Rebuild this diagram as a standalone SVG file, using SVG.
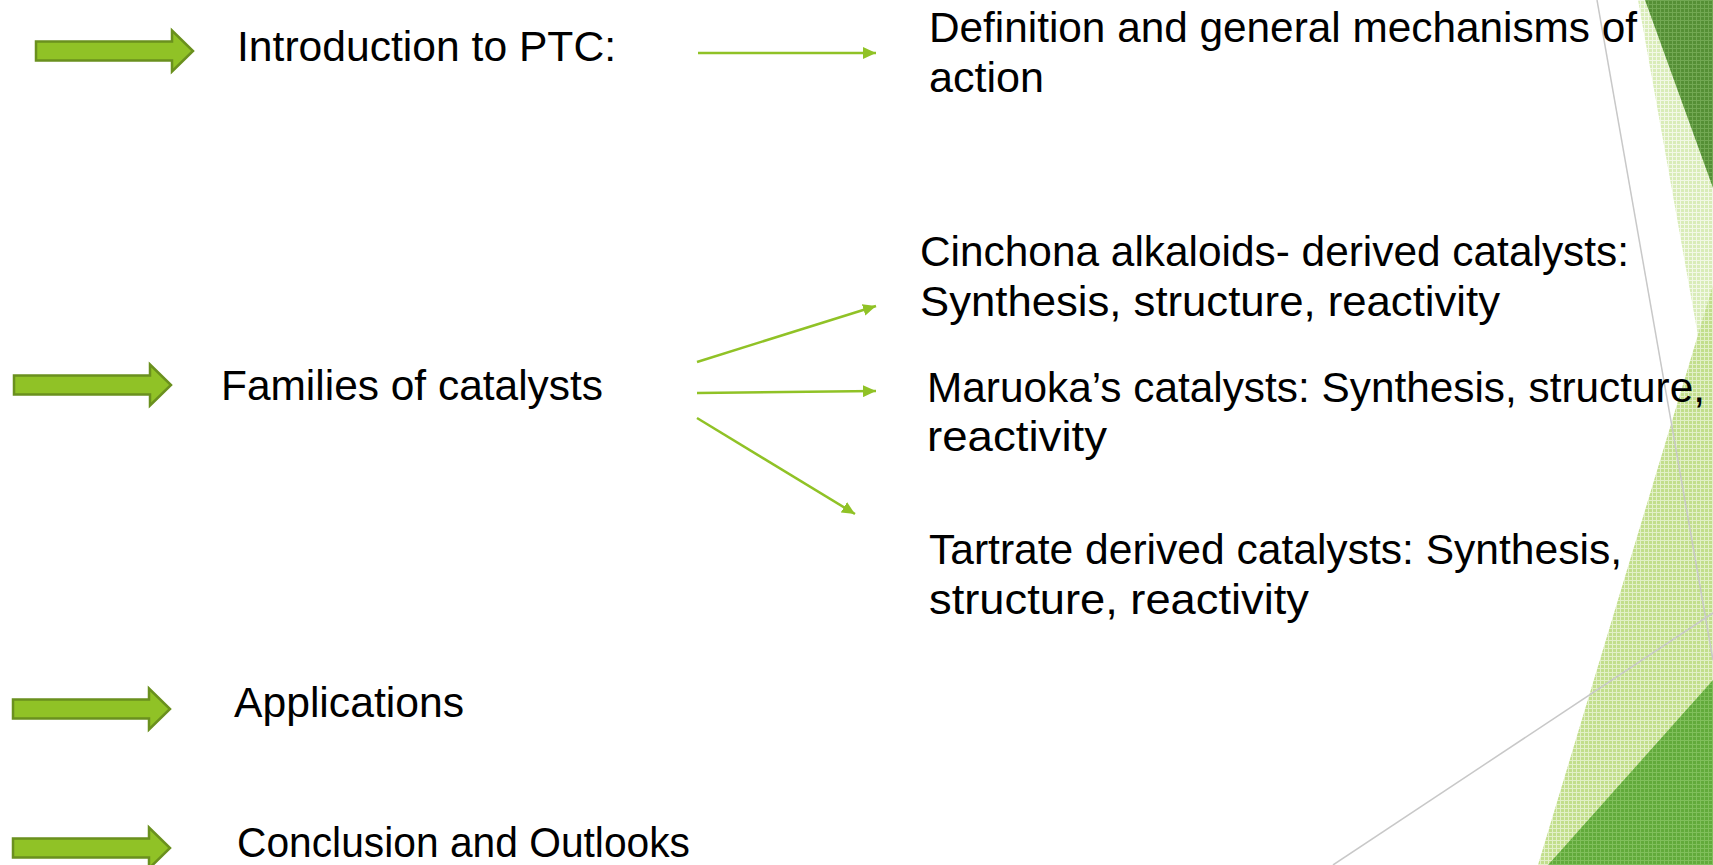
<svg xmlns="http://www.w3.org/2000/svg" width="1713" height="865" viewBox="0 0 1713 865">
  <style>
    .t { font-family: "Liberation Sans", Arial, sans-serif; font-size: 42px; fill: #000; }
    .blk { fill: #90c226; stroke: #6a901e; stroke-width: 2.5; }
    .con { stroke: #90c226; stroke-width: 2.5; fill: none; marker-end: url(#ah); }
    .gl { stroke: #c8c8c8; stroke-width: 1.5; fill: none; }
  </style>
  <defs>
    <marker id="ah" viewBox="0 0 13 12" refX="13" refY="6" markerWidth="13" markerHeight="12" markerUnits="userSpaceOnUse" orient="auto">
      <path d="M0,0 L13,6 L0,12 Z" fill="#90c226"/>
    </marker>
    <path id="blockArrow" d="M0,-9.5 H136 V-20.5 L157,0 L136,20.5 V9.5 H0 Z"/>
    <pattern id="pPale" width="4" height="4" patternUnits="userSpaceOnUse">
      <rect width="4" height="4" fill="#d9ecb8"/>
      <rect width="4" height="1" fill="#f2f8e6"/>
      <rect width="1" height="4" fill="#f2f8e6"/>
    </pattern>
    <pattern id="pLight" width="4" height="4" patternUnits="userSpaceOnUse">
      <rect width="4" height="4" fill="#c2de8c"/>
      <rect width="4" height="1" fill="#e2f0c8"/>
      <rect width="1" height="4" fill="#e2f0c8"/>
    </pattern>
    <pattern id="pDark" width="4" height="4" patternUnits="userSpaceOnUse">
      <rect width="4" height="4" fill="#558f35"/>
      <rect width="4" height="1" fill="#72a853"/>
      <rect width="1" height="4" fill="#72a853"/>
    </pattern>
    <pattern id="pMid" width="4" height="4" patternUnits="userSpaceOnUse">
      <rect width="4" height="4" fill="#62aa3b"/>
      <rect width="4" height="1" fill="#80bf5c"/>
      <rect width="1" height="4" fill="#80bf5c"/>
    </pattern>
  </defs>

  <rect width="1713" height="865" fill="#ffffff"/>

  <g id="decor">
    <polygon points="1638,0 1713,0 1713,470 1697,330" fill="url(#pPale)"/>
    <polygon points="1713,285 1713,865 1538,865" fill="url(#pLight)"/>
    <polygon points="1645,0 1713,0 1713,188" fill="url(#pDark)"/>
    <polygon points="1548,865 1713,680 1713,865" fill="url(#pMid)"/>
    <line class="gl" x1="1597" y1="0" x2="1713" y2="660"/>
    <line class="gl" x1="1333" y1="865" x2="1713" y2="613"/>
  </g>

  <g id="node-intro">
    <use href="#blockArrow" class="blk" transform="translate(36,51)"/>
    <text class="t" x="237" y="61" textLength="379" lengthAdjust="spacingAndGlyphs">Introduction to PTC:</text>
  </g>
  <g id="node-families">
    <use href="#blockArrow" class="blk" transform="translate(14,385)"/>
    <text class="t" x="221" y="400" textLength="382" lengthAdjust="spacingAndGlyphs">Families of catalysts</text>
  </g>
  <g id="node-applications">
    <use href="#blockArrow" class="blk" transform="translate(13,709)"/>
    <text class="t" x="234" y="717" textLength="230" lengthAdjust="spacingAndGlyphs">Applications</text>
  </g>
  <g id="node-conclusion">
    <use href="#blockArrow" class="blk" transform="translate(13,848)"/>
    <text class="t" x="237" y="857" textLength="453" lengthAdjust="spacingAndGlyphs">Conclusion and Outlooks</text>
  </g>

  <g id="node-definition">
    <text class="t" x="929" y="42" textLength="708" lengthAdjust="spacingAndGlyphs">Definition and general mechanisms of</text>
    <text class="t" x="929" y="92" textLength="115" lengthAdjust="spacingAndGlyphs">action</text>
  </g>
  <g id="node-cinchona">
    <text class="t" x="920" y="266" textLength="709" lengthAdjust="spacingAndGlyphs">Cinchona alkaloids- derived catalysts:</text>
    <text class="t" x="920" y="316" textLength="580" lengthAdjust="spacingAndGlyphs">Synthesis, structure, reactivity</text>
  </g>
  <g id="node-maruoka">
    <text class="t" x="927" y="402" textLength="778" lengthAdjust="spacingAndGlyphs">Maruoka’s catalysts: Synthesis, structure,</text>
    <text class="t" x="927" y="451" textLength="180" lengthAdjust="spacingAndGlyphs">reactivity</text>
  </g>
  <g id="node-tartrate">
    <text class="t" x="929" y="564" textLength="693" lengthAdjust="spacingAndGlyphs">Tartrate derived catalysts: Synthesis,</text>
    <text class="t" x="929" y="614" textLength="380" lengthAdjust="spacingAndGlyphs">structure, reactivity</text>
  </g>

  <g id="connectors">
    <line class="con" x1="698" y1="53" x2="876" y2="53"/>
    <line class="con" x1="697" y1="362" x2="876" y2="306"/>
    <line class="con" x1="697" y1="393" x2="876" y2="391"/>
    <line class="con" x1="697" y1="418" x2="855" y2="514"/>
  </g>
</svg>
